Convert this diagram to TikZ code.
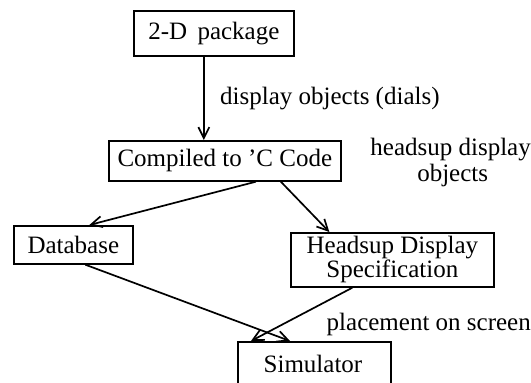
\documentclass[tikz,border=0pt]{standalone}
\usepackage{fontspec}
\setmainfont{Liberation Serif}
\usetikzlibrary{arrows.meta}
\begin{document}
\begin{tikzpicture}[x=1pt,y=-1pt,
  every node/.style={font=\fontsize{25}{28}\selectfont},
  blk/.style={draw,line width=1.7pt,inner sep=0pt,anchor=north west},
  conn/.style={line width=1.7pt,-{Straight Barb[length=11pt,width=11pt,line width=1.7pt]}},
  lbl/.style={inner sep=0pt,align=center}]
  \useasboundingbox (0,0) rectangle (531,383);
  % boxes
  \node[blk,minimum width=160pt,minimum height=45pt] (pkg) at (133,10) {2-D\, package};
  \node[blk,minimum width=232pt,minimum height=40pt] (cc) at (108,140) {Compiled to 'C Code};
  \node[blk,minimum width=119pt,minimum height=38pt] (db) at (13,225) {Database};
  \node[blk,minimum width=203pt,minimum height=54pt,align=center,
        font=\fontsize{25}{19}\selectfont] (hud) at (290,232)
    {Headsup Display\\Specification};
  \node[blk,minimum width=153pt,minimum height=60pt] (sim) at (237,341) {};
  \node[inner sep=0pt,anchor=base] (simtxt) at (313,372) {Simulator};
  % connectors
  \draw[conn] ([xshift=-10pt]pkg.south) -- ([xshift=-10pt]pkg.south |- cc.north);
  \draw[conn] ([xshift=31pt]cc.south) -- ([xshift=16pt]db.north);
  \draw[conn] ([xshift=56pt]cc.south) -- ([xshift=-63pt]hud.north);
  \draw[conn] ([xshift=12pt]db.south) -- ([xshift=53pt]sim.north west);
  \draw[conn] ([xshift=-40pt]hud.south) -- ([xshift=14pt]sim.north west);
  % labels
  \node[lbl,anchor=base west] (l1) at (220,104) {display objects (dials)};
  \node[lbl,anchor=base east,font=\fontsize{25}{26}\selectfont] (l2) at (531,181)
    {headsup display\\\hphantom{hea}objects\hphantom{lay}};
  \node[lbl,anchor=base east] (l3) at (531,330) {placement on screen};
\end{tikzpicture}
\end{document}
